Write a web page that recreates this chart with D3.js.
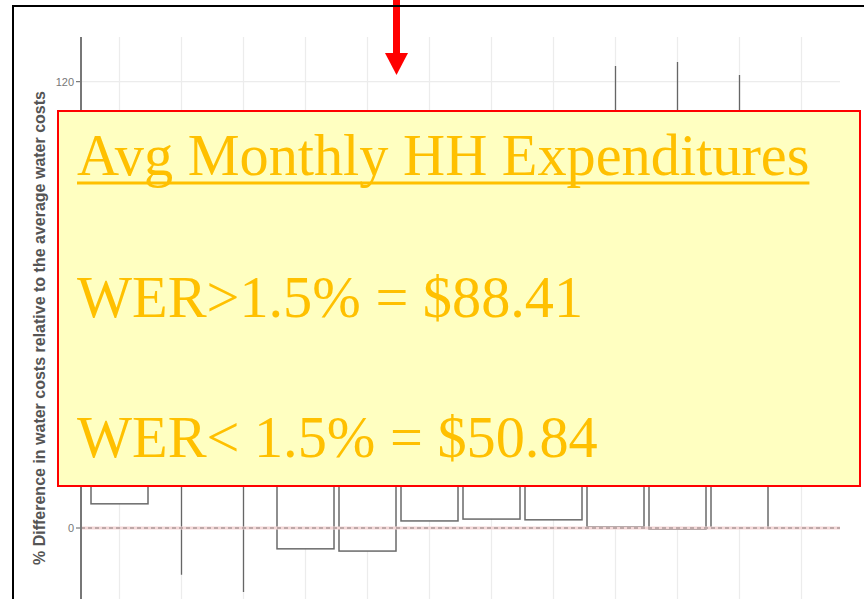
<!DOCTYPE html>
<html>
<head>
<meta charset="utf-8">
<script src="https://cdn.jsdelivr.net/npm/d3@7"></script>
<style>
  html, body { margin: 0; padding: 0; background: #fff; }
  svg { display: block; }
  .grid line { stroke: #ececec; stroke-width: 1.2; }
  .tick-text { font-family: "Liberation Sans", Arial, sans-serif; font-size: 11px; fill: #777; }
  .ytitle { font-family: "Liberation Sans", Arial, sans-serif; font-size: 16px; font-weight: bold; fill: #555; }
  .note { font-family: "Liberation Serif", "Times New Roman", serif; font-size: 58.3px; fill: #FFC000; }
</style>
</head>
<body>
<div id="js_chart"></div>
<script>
// chart values (parts hidden by the note box are estimated)
var categories  = ["G1","G2","G3","G4","G5","G6","G7","G8","G9","G10","G11","G12"];
var whiskerLow  = [6.5, -12.6, -17.2, -5.6, -6.2, 1.9, 2.4, 2.2, 0.3, -0.3, 0.0, 40];
var q1          = [6.5,  20,    20,   -5.6, -6.2, 1.9, 2.4, 2.2, 0.3, -0.3, 0.0, 40];
var median      = [15,   35,    35,    15,   15,  12,  12,  12,  15,   18,  15,  50];
var q3          = [30,   50,    55,    35,   35,  30,  30,  30,  40,   45,  40,  60];
var whiskerHigh = [60,   90,    95,    80,   80,  70,  70,  70, 124.2, 125.3, 121.8, 80];
var yTicks      = [0, 40, 80, 120];

var noteTitle = "Avg Monthly HH Expenditures";
var noteLines = ["WER>1.5% = $88.41", "WER< 1.5% = $50.84"];

var width = 864, height = 599;

var svg = d3.select("#js_chart").append("svg")
  .attr("width", width)
  .attr("height", height);

svg.append("rect").attr("width", width).attr("height", height).attr("fill", "#fff");

var axisX = 81, panelRight = 840;

var y = d3.scaleLinear().domain([-20, 132]).range([602.4, 37]);
var x = d3.scalePoint().domain(categories).range([119.5, 801.5]);
var boxW = 57;

var rows = categories.map(function (c, i) {
  return { cat: c, lo: whiskerLow[i], q1: q1[i], med: median[i], q3: q3[i], hi: whiskerHigh[i] };
});

// grid
var grid = svg.append("g").attr("class", "grid");
grid.selectAll("line.v").data(categories).enter().append("line")
  .attr("class", "v")
  .attr("x1", function (d) { return x(d); })
  .attr("x2", function (d) { return x(d); })
  .attr("y1", 37).attr("y2", height);
grid.selectAll("line.h").data(yTicks.filter(function (t) { return t !== 0; })).enter().append("line")
  .attr("class", "h")
  .attr("x1", axisX).attr("x2", panelRight)
  .attr("y1", function (d) { return y(d); })
  .attr("y2", function (d) { return y(d); });

// boxes
var boxes = svg.append("g").selectAll("g").data(rows).enter().append("g");

boxes.append("line")
  .attr("x1", function (d) { return x(d.cat); })
  .attr("x2", function (d) { return x(d.cat); })
  .attr("y1", function (d) { return y(d.lo); })
  .attr("y2", function (d) { return y(d.hi); })
  .attr("stroke", "#666").attr("stroke-width", 1.3);

boxes.append("rect")
  .attr("x", function (d) { return x(d.cat) - boxW / 2; })
  .attr("width", boxW)
  .attr("y", function (d) { return y(d.q3); })
  .attr("height", function (d) { return y(d.q1) - y(d.q3); })
  .attr("fill", "#fff").attr("stroke", "#6a6a6a").attr("stroke-width", 1.5);

boxes.append("line")
  .attr("x1", function (d) { return x(d.cat) - boxW / 2; })
  .attr("x2", function (d) { return x(d.cat) + boxW / 2; })
  .attr("y1", function (d) { return y(d.med); })
  .attr("y2", function (d) { return y(d.med); })
  .attr("stroke", "#555").attr("stroke-width", 2);

// zero reference line
svg.append("line")
  .attr("x1", axisX).attr("x2", panelRight)
  .attr("y1", y(0)).attr("y2", y(0))
  .attr("stroke", "#f3d6d6").attr("stroke-width", 3);
svg.append("line")
  .attr("x1", axisX).attr("x2", panelRight)
  .attr("y1", y(0)).attr("y2", y(0))
  .attr("stroke", "#8a7a7a").attr("stroke-width", 1.2)
  .attr("stroke-dasharray", "4,3");

// y axis
svg.append("line")
  .attr("x1", axisX).attr("x2", axisX)
  .attr("y1", 37).attr("y2", height)
  .attr("stroke", "#777").attr("stroke-width", 2);

var yt = svg.append("g").selectAll("g").data(yTicks).enter().append("g");
yt.append("line")
  .attr("x1", axisX - 5).attr("x2", axisX)
  .attr("y1", function (d) { return y(d); })
  .attr("y2", function (d) { return y(d); })
  .attr("stroke", "#777").attr("stroke-width", 1.2);
yt.append("text")
  .attr("class", "tick-text")
  .attr("x", axisX - 7)
  .attr("y", function (d) { return y(d) + 4; })
  .attr("text-anchor", "end")
  .text(function (d) { return d; });

svg.append("text")
  .attr("class", "ytitle")
  .attr("transform", "translate(45," + 328 + ") rotate(-90)")
  .attr("text-anchor", "middle")
  .text("% Difference in water costs relative to the average water costs");

// note box
svg.append("rect")
  .attr("x", 58).attr("y", 111)
  .attr("width", 802).attr("height", 375)
  .attr("fill", "#FFFFC1").attr("stroke", "#ff0000").attr("stroke-width", 2);

var title = svg.append("text")
  .attr("class", "note")
  .attr("x", 77).attr("y", 175)
  .text(noteTitle);
var tw = title.node().getComputedTextLength();
svg.append("line")
  .attr("x1", 77).attr("x2", 77 + tw)
  .attr("y1", 183).attr("y2", 183)
  .attr("stroke", "#FFC000").attr("stroke-width", 3);

svg.selectAll("text.line").data(noteLines).enter().append("text")
  .attr("class", "note line")
  .attr("x", 77)
  .attr("y", function (d, i) { return 317 + i * 140; })
  .text(function (d) { return d; });

// red arrow
svg.append("rect")
  .attr("x", 393).attr("y", 0).attr("width", 7).attr("height", 56)
  .attr("fill", "#ff0000");
svg.append("path")
  .attr("d", "M385,53 L408,53 L396.5,75 Z")
  .attr("fill", "#ff0000");

// frame
svg.append("line").attr("x1", 12).attr("x2", width).attr("y1", 6).attr("y2", 6)
  .attr("stroke", "#000").attr("stroke-width", 2);
svg.append("line").attr("x1", 13).attr("x2", 13).attr("y1", 5).attr("y2", height)
  .attr("stroke", "#000").attr("stroke-width", 2);
</script>
</body>
</html>
